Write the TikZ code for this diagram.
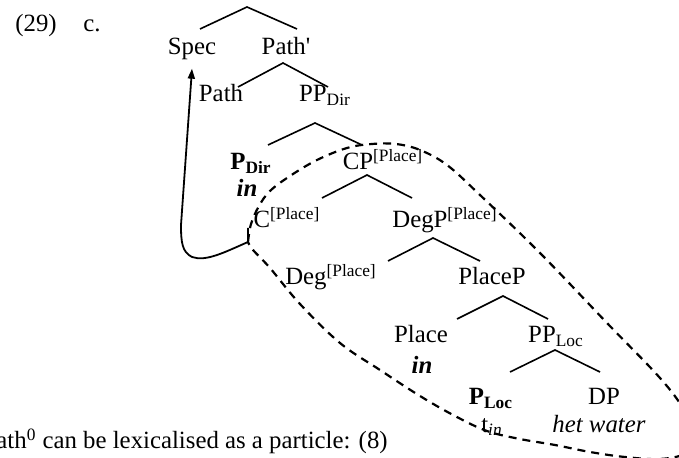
\documentclass[tikz,border=0pt,12pt]{standalone}
\usepackage{fontspec}
\setmainfont{Liberation Serif}
\usepackage{tikz}
\usetikzlibrary{arrows.meta, calc}

\begin{document}
\begin{tikzpicture}[
    x=0.5pt, y=-0.5pt,
    every node/.style={anchor=base, font=\fontsize{12.4}{15}\selectfont},
    branch/.style={line width=0.8pt},
    chunk/.style={dash pattern=on 4pt off 3pt, line width=1.1pt},
    arr/.style={-{Triangle[length=5pt, width=3.5pt]}, line width=0.9pt}
]
\useasboundingbox (0,0) rectangle (679,458);

% example number
\node[anchor=base west] (exnum) at (7,32) {(29)};
\node[anchor=base west] (exlet) at (75,32) {c.};

% tree labels
\node (spec) at (192,55) {Spec};
\node (pathbar) at (286,55) {Path\textquotesingle};
\node (path) at (221,102) {Path};
\node (ppdir) at (325,102) {PP\textsubscript{Dir}};
\node (pdir) at (251,170) {\textbf{P\textsubscript{Dir}}};
\node (pdirin) at (247,197) {\textbf{\textit{in}}};
\node (cp) at (383,170) {CP\textsuperscript{[Place]}};
\node (c) at (287,228) {C\textsuperscript{[Place]}};
\node (degp) at (445,228) {DegP\textsuperscript{[Place]}};
\node (deg) at (331,285) {Deg\textsuperscript{[Place]}};
\node (placep) at (492,285) {PlaceP};
\node (place) at (421,343) {Place};
\node (placein) at (422,374) {\textbf{\textit{in}}};
\node (pploc) at (556,343) {PP\textsubscript{Loc}};
\node (ploc) at (491,405) {\textbf{P\textsubscript{Loc}}};
\node (dp) at (604,405) {DP};
\node (trace) at (492,432) {t\textsubscript{\textit{in}}};
\node (hetwater) at (599,432) {\textit{het water}};
\node[anchor=base east] (caption) at (396,449) {ath\textsuperscript{0} can be lexicalised as a particle: (8)};

% roofs
\coordinate (root-roof) at (247,7);
\coordinate (pathbar-roof) at (283,63);
\coordinate (ppdir-roof) at (315,123);
\coordinate (cp-roof) at (367,175);
\coordinate (degp-roof) at (433,238);
\coordinate (placep-roof) at (503,296);
\coordinate (pploc-roof) at (555,350);

\draw[branch] (root-roof) ++(-47,22) -- (root-roof) -- ++(50,22);
\draw[branch] (pathbar-roof) ++(-45,24) -- (pathbar-roof) -- ++(45,24);
\draw[branch] (ppdir-roof) ++(-47,22) -- (ppdir-roof) -- ++(47,22);
\draw[branch] (cp-roof) ++(-45,23) -- (cp-roof) -- ++(45,23);
\draw[branch] (degp-roof) ++(-45,23) -- (degp-roof) -- ++(47,23);
\draw[branch] (placep-roof) ++(-46,23) -- (placep-roof) -- ++(45,23);
\draw[branch] (pploc-roof) ++(-45,22) -- (pploc-roof) -- ++(45,22);

% moved chunk
\coordinate (bend) at (248,242);
\draw[chunk] plot[smooth, tension=0.6] coordinates {
    (248,242) (251,224) (259,206) (270,191) (290,176) (317,160) (347,148)
    (372,144) (396,144) (420,150) (447,165) (480,195) (540,253) (607,323)
    (660,378) (684,410) (694,436) (686,453) (660,459) (625,457) (590,452)
    (555,445) (520,439) (487,431) (455,416) (420,396) (380,370) (340,343)
    (300,304) (270,268) (253,250) (248,242)};

% movement
\draw[arr] ([yshift=7]bend) -- (bend) .. controls (225,252) and (206,262) .. (192,257)
    .. controls (182,252) and (181,242) .. (181,225) -- (spec.south);

\end{tikzpicture}
\end{document}
